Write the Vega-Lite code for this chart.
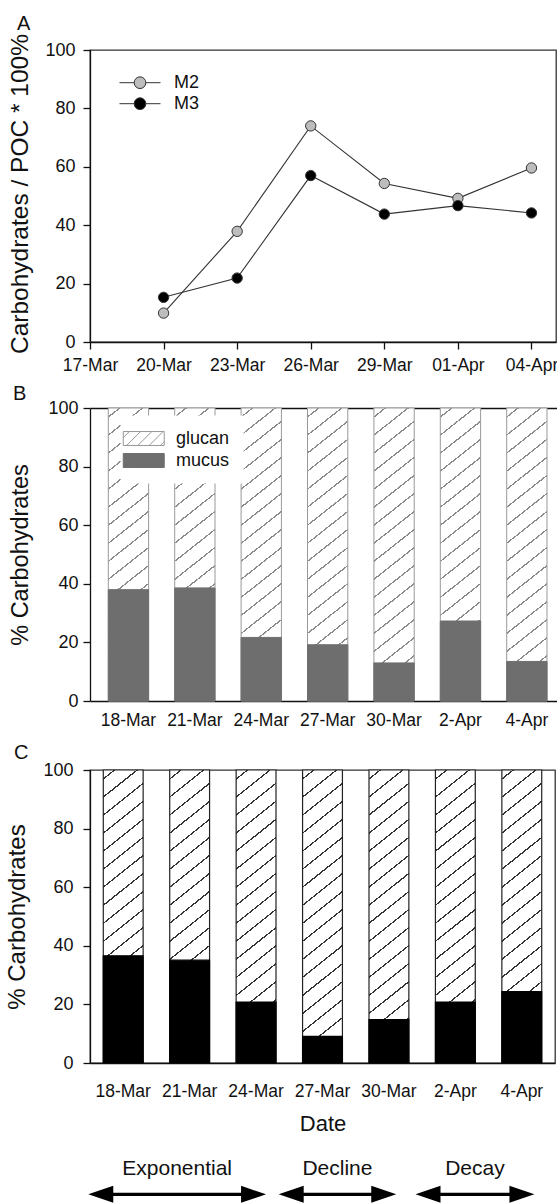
{
  "$schema": "https://vega.github.io/schema/vega-lite/v6.json",
  "padding": {"left": 5, "top": 13, "right": 0, "bottom": 0},
  "spacing": 9,
  "config": {
    "font": "Liberation Sans",
    "view": {"stroke": "#333", "strokeWidth": 1.3},
    "axis": {"domainColor": "#111", "domainWidth": 1.3, "tickColor": "#111", "tickWidth": 1.3, "labelColor": "#111", "titleColor": "#111", "titleFontWeight": "normal", "grid": false, "labelFontSize": 17.5, "labelOverlap": false, "labelFlush": false},
    "title": {"fontSize": 20, "fontWeight": "normal", "anchor": "start", "frame": "bounds", "color": "#111"},
    "legend": {"labelColor": "#111"}
  },
  "resolve": {"scale": {"fill": "independent", "stroke": "independent", "x": "independent", "y": "independent"}, "legend": {"fill": "independent", "stroke": "independent"}},
  "vconcat": [
    {
      "title": {"text": "A", "offset": -0.5, "dx": 9},
      "width": 466,
      "height": 292,
      "data": {"values": [
        {"date": "2008-03-20", "series": "M2", "value": 9.9},
        {"date": "2008-03-23", "series": "M2", "value": 37.9},
        {"date": "2008-03-26", "series": "M2", "value": 74},
        {"date": "2008-03-29", "series": "M2", "value": 54.3},
        {"date": "2008-04-01", "series": "M2", "value": 49.2},
        {"date": "2008-04-04", "series": "M2", "value": 59.6},
        {"date": "2008-03-20", "series": "M3", "value": 15.3},
        {"date": "2008-03-23", "series": "M3", "value": 21.9},
        {"date": "2008-03-26", "series": "M3", "value": 57},
        {"date": "2008-03-29", "series": "M3", "value": 43.8},
        {"date": "2008-04-01", "series": "M3", "value": 46.7},
        {"date": "2008-04-04", "series": "M3", "value": 44.2}
      ]},
      "encoding": {
        "x": {"field": "date", "type": "temporal",
          "scale": {"type": "utc", "nice": false, "domain": [{"year": 2008, "month": 3, "date": 17, "utc": true}, {"year": 2008, "month": 4, "date": 5, "utc": true}]},
          "axis": {"title": null, "format": "%d-%b", "tickSize": 7, "labelPadding": 7, "labelFontSize": 17.5,
            "values": [
              {"year": 2008, "month": 3, "date": 17, "utc": true},
              {"year": 2008, "month": 3, "date": 20, "utc": true},
              {"year": 2008, "month": 3, "date": 23, "utc": true},
              {"year": 2008, "month": 3, "date": 26, "utc": true},
              {"year": 2008, "month": 3, "date": 29, "utc": true},
              {"year": 2008, "month": 4, "date": 1, "utc": true},
              {"year": 2008, "month": 4, "date": 4, "utc": true}
            ]}},
        "y": {"field": "value", "type": "quantitative", "scale": {"domain": [0, 100], "nice": false},
          "axis": {"title": "Carbohydrates / POC * 100%", "titleFontSize": 24.5, "titlePadding": 12, "titleY": 143.5, "values": [0, 20, 40, 60, 80, 100], "tickSize": 7, "labelPadding": 8, "labelFontSize": 18}}
      },
      "layer": [
        {"mark": {"type": "line", "color": "#333", "strokeWidth": 1.1}, "encoding": {"detail": {"field": "series"}}},
        {"mark": {"type": "point", "filled": true, "size": 107, "stroke": "#333", "strokeWidth": 1, "opacity": 1},
          "encoding": {"fill": {"field": "series", "type": "nominal",
            "scale": {"domain": ["M2", "M3"], "range": ["#bdbdbd", "#000000"]},
            "legend": {"title": null, "orient": "none", "legendX": 41, "legendY": 23.7, "padding": 0,
              "symbolType": "M-3.42,0L-0.975,0M0.975,0L3.42,0M-0.975,0A0.975,0.975,0,1,0,0.975,0A0.975,0.975,0,1,0,-0.975,0Z",
              "symbolSize": 144, "symbolStrokeColor": "#333", "symbolStrokeWidth": 1, "labelFontSize": 18, "labelOffset": 25, "rowPadding": 3}}}}
      ]
    },
    {
      "title": {"text": "B", "offset": -5, "dx": 4},
      "width": 467,
      "height": 293,
      "view": {"stroke": null},
      "resolve": {"axis": {"x": "independent"}},
      "data": {"values": [
        {"date": "18-Mar", "component": "mucus", "value": 38},
        {"date": "18-Mar", "component": "glucan", "value": 62},
        {"date": "21-Mar", "component": "mucus", "value": 38.6},
        {"date": "21-Mar", "component": "glucan", "value": 61.4},
        {"date": "24-Mar", "component": "mucus", "value": 21.7},
        {"date": "24-Mar", "component": "glucan", "value": 78.3},
        {"date": "27-Mar", "component": "mucus", "value": 19.2},
        {"date": "27-Mar", "component": "glucan", "value": 80.8},
        {"date": "30-Mar", "component": "mucus", "value": 13},
        {"date": "30-Mar", "component": "glucan", "value": 87},
        {"date": "2-Apr", "component": "mucus", "value": 27.3},
        {"date": "2-Apr", "component": "glucan", "value": 72.7},
        {"date": "4-Apr", "component": "mucus", "value": 13.5},
        {"date": "4-Apr", "component": "glucan", "value": 86.5}
      ]},
      "layer": [
        {"mark": {"type": "bar", "stroke": "#999999", "strokeWidth": 1,
            "fill": {"gradient": "linear", "x1": 0, "y1": 0, "x2": 0.119, "y2": 1.095, "stops": [
              {"offset": 0, "color": "#ffffff"},
              {"offset": 0.02528, "color": "#ffffff"}, {"offset": 0.02528, "color": "#8a8a8a"}, {"offset": 0.03028, "color": "#8a8a8a"}, {"offset": 0.03028, "color": "#ffffff"},
              {"offset": 0.08083, "color": "#ffffff"}, {"offset": 0.08083, "color": "#8a8a8a"}, {"offset": 0.08583, "color": "#8a8a8a"}, {"offset": 0.08583, "color": "#ffffff"},
              {"offset": 0.13639, "color": "#ffffff"}, {"offset": 0.13639, "color": "#8a8a8a"}, {"offset": 0.14139, "color": "#8a8a8a"}, {"offset": 0.14139, "color": "#ffffff"},
              {"offset": 0.19194, "color": "#ffffff"}, {"offset": 0.19194, "color": "#8a8a8a"}, {"offset": 0.19694, "color": "#8a8a8a"}, {"offset": 0.19694, "color": "#ffffff"},
              {"offset": 0.2475, "color": "#ffffff"}, {"offset": 0.2475, "color": "#8a8a8a"}, {"offset": 0.2525, "color": "#8a8a8a"}, {"offset": 0.2525, "color": "#ffffff"},
              {"offset": 0.30306, "color": "#ffffff"}, {"offset": 0.30306, "color": "#8a8a8a"}, {"offset": 0.30806, "color": "#8a8a8a"}, {"offset": 0.30806, "color": "#ffffff"},
              {"offset": 0.35861, "color": "#ffffff"}, {"offset": 0.35861, "color": "#8a8a8a"}, {"offset": 0.36361, "color": "#8a8a8a"}, {"offset": 0.36361, "color": "#ffffff"},
              {"offset": 0.41417, "color": "#ffffff"}, {"offset": 0.41417, "color": "#8a8a8a"}, {"offset": 0.41917, "color": "#8a8a8a"}, {"offset": 0.41917, "color": "#ffffff"},
              {"offset": 0.46972, "color": "#ffffff"}, {"offset": 0.46972, "color": "#8a8a8a"}, {"offset": 0.47472, "color": "#8a8a8a"}, {"offset": 0.47472, "color": "#ffffff"},
              {"offset": 0.52528, "color": "#ffffff"}, {"offset": 0.52528, "color": "#8a8a8a"}, {"offset": 0.53028, "color": "#8a8a8a"}, {"offset": 0.53028, "color": "#ffffff"},
              {"offset": 0.58083, "color": "#ffffff"}, {"offset": 0.58083, "color": "#8a8a8a"}, {"offset": 0.58583, "color": "#8a8a8a"}, {"offset": 0.58583, "color": "#ffffff"},
              {"offset": 0.63639, "color": "#ffffff"}, {"offset": 0.63639, "color": "#8a8a8a"}, {"offset": 0.64139, "color": "#8a8a8a"}, {"offset": 0.64139, "color": "#ffffff"},
              {"offset": 0.69194, "color": "#ffffff"}, {"offset": 0.69194, "color": "#8a8a8a"}, {"offset": 0.69694, "color": "#8a8a8a"}, {"offset": 0.69694, "color": "#ffffff"},
              {"offset": 0.7475, "color": "#ffffff"}, {"offset": 0.7475, "color": "#8a8a8a"}, {"offset": 0.7525, "color": "#8a8a8a"}, {"offset": 0.7525, "color": "#ffffff"},
              {"offset": 0.80306, "color": "#ffffff"}, {"offset": 0.80306, "color": "#8a8a8a"}, {"offset": 0.80806, "color": "#8a8a8a"}, {"offset": 0.80806, "color": "#ffffff"},
              {"offset": 0.85861, "color": "#ffffff"}, {"offset": 0.85861, "color": "#8a8a8a"}, {"offset": 0.86361, "color": "#8a8a8a"}, {"offset": 0.86361, "color": "#ffffff"},
              {"offset": 0.91417, "color": "#ffffff"}, {"offset": 0.91417, "color": "#8a8a8a"}, {"offset": 0.91917, "color": "#8a8a8a"}, {"offset": 0.91917, "color": "#ffffff"},
              {"offset": 0.96972, "color": "#ffffff"}, {"offset": 0.96972, "color": "#8a8a8a"}, {"offset": 0.97472, "color": "#8a8a8a"}, {"offset": 0.97472, "color": "#ffffff"},
              {"offset": 1, "color": "#ffffff"}
            ]}},
          "encoding": {
            "x": {"field": "date", "type": "nominal",
              "scale": {"domain": ["18-Mar", "21-Mar", "24-Mar", "27-Mar", "30-Mar", "2-Apr", "4-Apr"], "paddingInner": 0.393, "paddingOuter": 0.213, "align": 0.647},
              "axis": {"title": " ", "titleFontSize": 4, "titlePadding": 0, "labelAngle": 0, "ticks": false, "labelPadding": 10, "labelFontSize": 17.5}},
            "y": {"aggregate": "sum", "field": "value", "type": "quantitative", "scale": {"domain": [0, 100], "nice": false},
              "axis": {"title": "% Carbohydrates", "titleFontSize": 23.5, "titlePadding": 15, "values": [0, 20, 40, 60, 80, 100], "tickSize": 7, "labelPadding": 5, "labelFontSize": 18}}}},
        {"transform": [{"filter": "datum.component === 'mucus'"}],
          "mark": {"type": "bar", "strokeWidth": 1},
          "encoding": {
            "x": {"field": "date", "type": "nominal",
              "scale": {"domain": ["18-Mar", "21-Mar", "24-Mar", "27-Mar", "30-Mar", "2-Apr", "4-Apr"], "paddingInner": 0.393, "paddingOuter": 0.213, "align": 0.647},
              "axis": {"orient": "top", "title": null, "labels": false, "ticks": false, "domain": true}},
            "y": {"field": "value", "type": "quantitative", "scale": {"domain": [0, 100], "nice": false},
              "axis": {"title": "% Carbohydrates", "titleFontSize": 23.5, "titlePadding": 15, "values": [0, 20, 40, 60, 80, 100], "tickSize": 7, "labelPadding": 5, "labelFontSize": 18}},
            "fill": {"field": "component", "type": "nominal", "scale": {"domain": ["glucan", "mucus"], "range": ["#ffffff", "#6e6e6e"]},
              "legend": {"title": null, "orient": "none", "legendX": 30.75, "legendY": 7.5, "padding": 14, "fillColor": "#ffffff",
                "symbolType": "M-2.73,-0.93L2.73,-0.93L2.73,0.93L-2.73,0.93ZM-2.73,-0.12L-1.92,-0.93M-2.28,0.93L-0.42,-0.93M-0.78,0.93L1.08,-0.93M0.72,0.93L2.58,-0.93M2.22,0.93L2.73,0.42",
                "symbolSize": 225, "symbolStrokeWidth": 1, "labelFontSize": 18, "labelOffset": 23.25, "rowPadding": 4}},
            "stroke": {"field": "component", "type": "nominal", "scale": {"domain": ["glucan", "mucus"], "range": ["#999999", "#6e6e6e"]},
              "legend": {"title": null, "orient": "none", "legendX": 30.75, "legendY": 7.5, "padding": 14, "fillColor": "#ffffff",
                "symbolType": "M-2.73,-0.93L2.73,-0.93L2.73,0.93L-2.73,0.93ZM-2.73,-0.12L-1.92,-0.93M-2.28,0.93L-0.42,-0.93M-0.78,0.93L1.08,-0.93M0.72,0.93L2.58,-0.93M2.22,0.93L2.73,0.42",
                "symbolSize": 225, "symbolStrokeWidth": 1, "labelFontSize": 18, "labelOffset": 23.25, "rowPadding": 4}}
          }}
      ]
    },
    {
      "title": {"text": "C", "offset": -2, "dx": 8},
      "width": 465,
      "height": 293,
      "data": {"values": [
        {"date": "18-Mar", "component": "mucus", "value": 36.6},
        {"date": "18-Mar", "component": "glucan", "value": 63.4},
        {"date": "21-Mar", "component": "mucus", "value": 35.1},
        {"date": "21-Mar", "component": "glucan", "value": 64.9},
        {"date": "24-Mar", "component": "mucus", "value": 20.8},
        {"date": "24-Mar", "component": "glucan", "value": 79.2},
        {"date": "27-Mar", "component": "mucus", "value": 9.1},
        {"date": "27-Mar", "component": "glucan", "value": 90.9},
        {"date": "30-Mar", "component": "mucus", "value": 14.8},
        {"date": "30-Mar", "component": "glucan", "value": 85.2},
        {"date": "2-Apr", "component": "mucus", "value": 20.8},
        {"date": "2-Apr", "component": "glucan", "value": 79.2},
        {"date": "4-Apr", "component": "mucus", "value": 24.4},
        {"date": "4-Apr", "component": "glucan", "value": 75.6}
      ]},
      "encoding": {
        "x": {"field": "date", "type": "nominal",
          "scale": {"domain": ["18-Mar", "21-Mar", "24-Mar", "27-Mar", "30-Mar", "2-Apr", "4-Apr"], "paddingInner": 0.4, "paddingOuter": 0.2},
          "axis": {"title": "Date", "titleFontSize": 22, "titlePadding": 14, "labelAngle": 0, "ticks": false, "labelPadding": 19, "labelFontSize": 17.5}}
      },
      "layer": [
        {"mark": {"type": "bar", "stroke": "#222222", "strokeWidth": 1.2,
            "fill": {"gradient": "linear", "x1": 0, "y1": 0, "x2": 0.119, "y2": 1.095, "stops": [
              {"offset": 0, "color": "#ffffff"},
              {"offset": 0.02528, "color": "#ffffff"}, {"offset": 0.02528, "color": "#333333"}, {"offset": 0.03028, "color": "#333333"}, {"offset": 0.03028, "color": "#ffffff"},
              {"offset": 0.08083, "color": "#ffffff"}, {"offset": 0.08083, "color": "#333333"}, {"offset": 0.08583, "color": "#333333"}, {"offset": 0.08583, "color": "#ffffff"},
              {"offset": 0.13639, "color": "#ffffff"}, {"offset": 0.13639, "color": "#333333"}, {"offset": 0.14139, "color": "#333333"}, {"offset": 0.14139, "color": "#ffffff"},
              {"offset": 0.19194, "color": "#ffffff"}, {"offset": 0.19194, "color": "#333333"}, {"offset": 0.19694, "color": "#333333"}, {"offset": 0.19694, "color": "#ffffff"},
              {"offset": 0.2475, "color": "#ffffff"}, {"offset": 0.2475, "color": "#333333"}, {"offset": 0.2525, "color": "#333333"}, {"offset": 0.2525, "color": "#ffffff"},
              {"offset": 0.30306, "color": "#ffffff"}, {"offset": 0.30306, "color": "#333333"}, {"offset": 0.30806, "color": "#333333"}, {"offset": 0.30806, "color": "#ffffff"},
              {"offset": 0.35861, "color": "#ffffff"}, {"offset": 0.35861, "color": "#333333"}, {"offset": 0.36361, "color": "#333333"}, {"offset": 0.36361, "color": "#ffffff"},
              {"offset": 0.41417, "color": "#ffffff"}, {"offset": 0.41417, "color": "#333333"}, {"offset": 0.41917, "color": "#333333"}, {"offset": 0.41917, "color": "#ffffff"},
              {"offset": 0.46972, "color": "#ffffff"}, {"offset": 0.46972, "color": "#333333"}, {"offset": 0.47472, "color": "#333333"}, {"offset": 0.47472, "color": "#ffffff"},
              {"offset": 0.52528, "color": "#ffffff"}, {"offset": 0.52528, "color": "#333333"}, {"offset": 0.53028, "color": "#333333"}, {"offset": 0.53028, "color": "#ffffff"},
              {"offset": 0.58083, "color": "#ffffff"}, {"offset": 0.58083, "color": "#333333"}, {"offset": 0.58583, "color": "#333333"}, {"offset": 0.58583, "color": "#ffffff"},
              {"offset": 0.63639, "color": "#ffffff"}, {"offset": 0.63639, "color": "#333333"}, {"offset": 0.64139, "color": "#333333"}, {"offset": 0.64139, "color": "#ffffff"},
              {"offset": 0.69194, "color": "#ffffff"}, {"offset": 0.69194, "color": "#333333"}, {"offset": 0.69694, "color": "#333333"}, {"offset": 0.69694, "color": "#ffffff"},
              {"offset": 0.7475, "color": "#ffffff"}, {"offset": 0.7475, "color": "#333333"}, {"offset": 0.7525, "color": "#333333"}, {"offset": 0.7525, "color": "#ffffff"},
              {"offset": 0.80306, "color": "#ffffff"}, {"offset": 0.80306, "color": "#333333"}, {"offset": 0.80806, "color": "#333333"}, {"offset": 0.80806, "color": "#ffffff"},
              {"offset": 0.85861, "color": "#ffffff"}, {"offset": 0.85861, "color": "#333333"}, {"offset": 0.86361, "color": "#333333"}, {"offset": 0.86361, "color": "#ffffff"},
              {"offset": 0.91417, "color": "#ffffff"}, {"offset": 0.91417, "color": "#333333"}, {"offset": 0.91917, "color": "#333333"}, {"offset": 0.91917, "color": "#ffffff"},
              {"offset": 0.96972, "color": "#ffffff"}, {"offset": 0.96972, "color": "#333333"}, {"offset": 0.97472, "color": "#333333"}, {"offset": 0.97472, "color": "#ffffff"},
              {"offset": 1, "color": "#ffffff"}
            ]}},
          "encoding": {"y": {"aggregate": "sum", "field": "value", "type": "quantitative", "scale": {"domain": [0, 100], "nice": false},
            "axis": {"title": "% Carbohydrates", "titleFontSize": 24, "titlePadding": 13, "values": [0, 20, 40, 60, 80, 100], "tickSize": 7, "labelPadding": 10, "labelFontSize": 18}}}},
        {"transform": [{"filter": "datum.component === 'mucus'"}],
          "mark": {"type": "bar", "fill": "#000000", "stroke": "#000000", "strokeWidth": 1.2},
          "encoding": {
            "y": {"field": "value", "type": "quantitative", "scale": {"domain": [0, 100], "nice": false},
              "axis": {"title": "% Carbohydrates", "titleFontSize": 24, "titlePadding": 13, "values": [0, 20, 40, 60, 80, 100], "tickSize": 7, "labelPadding": 10, "labelFontSize": 18}}
          }}
      ]
    },
    {
      "width": 465,
      "height": 56,
      "view": {"stroke": null},
      "data": {"values": [
        {"phase": "Exponential", "start": -0.526, "end": 2.15},
        {"phase": "Decline", "start": 2.34, "end": 4.11},
        {"phase": "Decay", "start": 4.4, "end": 6.19}
      ]},
      "layer": [
        {"mark": {"type": "rule", "color": "#000000", "strokeWidth": 3.4, "xOffset": 8, "x2Offset": -8},
          "encoding": {
            "x": {"field": "start", "type": "quantitative", "scale": {"domain": [-0.5, 6.5], "nice": false, "zero": false}, "axis": null},
            "x2": {"field": "end"},
            "y": {"datum": 0.119, "type": "quantitative", "scale": {"domain": [0, 1], "nice": false}, "axis": null}
          }},
        {"mark": {"type": "point", "shape": "M0,0L2,-0.68L2,0.68Z", "size": 625, "filled": true, "color": "#000000", "opacity": 1},
          "encoding": {
            "x": {"field": "start", "type": "quantitative", "scale": {"domain": [-0.5, 6.5], "nice": false, "zero": false}, "axis": null},
            "y": {"datum": 0.119, "type": "quantitative", "scale": {"domain": [0, 1], "nice": false}, "axis": null}
          }},
        {"mark": {"type": "point", "shape": "M0,0L-2,-0.68L-2,0.68Z", "size": 625, "filled": true, "color": "#000000", "opacity": 1},
          "encoding": {
            "x": {"field": "end", "type": "quantitative", "scale": {"domain": [-0.5, 6.5], "nice": false, "zero": false}, "axis": null},
            "y": {"datum": 0.119, "type": "quantitative", "scale": {"domain": [0, 1], "nice": false}, "axis": null}
          }},
        {"transform": [{"calculate": "(datum.start + datum.end) / 2", "as": "mid"}],
          "mark": {"type": "text", "fontSize": 21, "baseline": "alphabetic", "align": "center", "color": "#111111"},
          "encoding": {
            "x": {"field": "mid", "type": "quantitative", "scale": {"domain": [-0.5, 6.5], "nice": false, "zero": false}, "axis": null},
            "y": {"datum": 0.459, "type": "quantitative", "scale": {"domain": [0, 1], "nice": false}, "axis": null},
            "text": {"field": "phase"}
          }}
      ]
    }
  ]
}
